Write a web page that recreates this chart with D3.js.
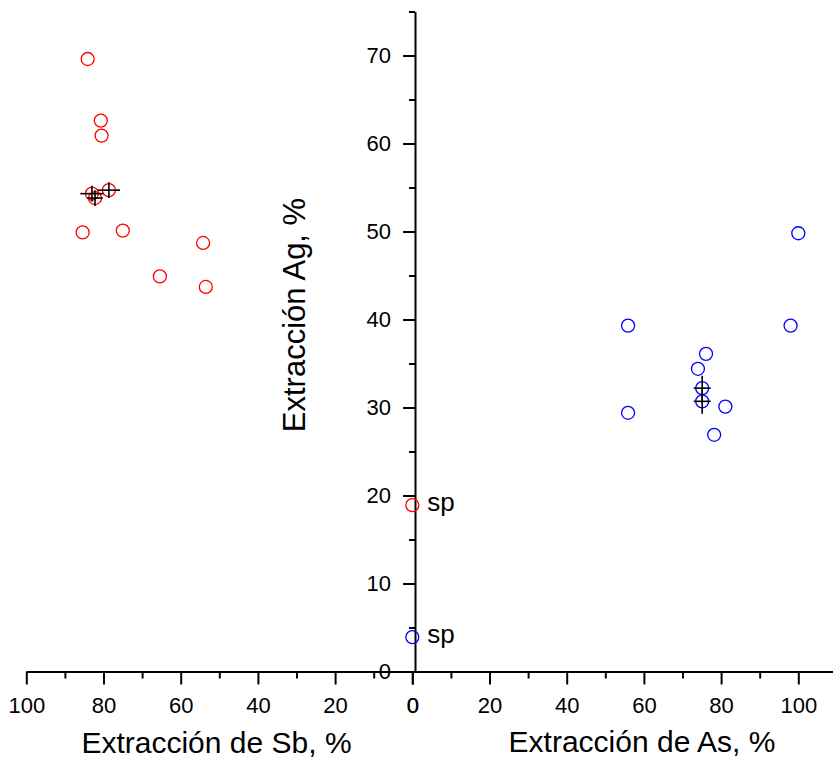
<!DOCTYPE html>
<html>
<head>
<meta charset="utf-8">
<script src="https://cdn.jsdelivr.net/npm/d3@7/dist/d3.min.js"></script>
<style>
  html, body { margin: 0; padding: 0; background: #fff; }
  svg { display: block; font-family: "Liberation Sans", Arial, sans-serif; }
</style>
</head>
<body>
<svg id="chart" width="833" height="761"></svg>
<script>
// ---- Data ----
// Left panel: Extracción de Sb (%) vs Extracción Ag (%)
const sbExt  = [84.1, 80.7, 80.5, 83.0, 82.2, 78.6, 85.4, 75.0, 54.2, 65.4, 53.5, 0];
const sbAg   = [69.6, 62.6, 60.9, 54.3, 53.8, 54.7, 49.9, 50.1, 48.7, 44.9, 43.7, 18.9];
const sbErrX = [0, 0, 0, 3.0, 2.0, 2.9, 0, 0, 0, 0, 0, 0];
const sbErrY = [0, 0, 0, 0.9, 0.9, 0.9, 0, 0, 0, 0, 0, 0];

// Right panel: Extracción de As (%) vs Extracción Ag (%)
const asExt  = [55.9, 55.9, 98.0, 100.0, 76.1, 74.0, 75.1, 75.1, 81.1, 78.2, 0];
const asAg   = [39.3, 29.4, 39.3, 49.8, 36.1, 34.4, 32.2, 30.7, 30.1, 26.9, 3.9];
const asErrX = [0, 0, 0, 0, 0, 0, 2.2, 2.2, 0, 0, 0];
const asErrY = [0, 0, 0, 0, 0, 0, 1.4, 1.4, 0, 0, 0];

// Labels for the "sp" points
const spLabels = [
  { panel: "sb", ext: 0, ag: 18.9, text: "sp" },
  { panel: "as", ext: 0, ag: 3.9, text: "sp" }
];

// Ticks
const xMajorTicks = [0, 20, 40, 60, 80, 100];
const xMinorTicks = [10, 30, 50, 70, 90];
const yMajorTicks = [0, 10, 20, 30, 40, 50, 60, 70];
const yMinorTicks = [5, 15, 25, 35, 45, 55, 65, 75];

const xLabelSb = "Extracción de Sb, %";
const xLabelAs = "Extracción de As, %";
const yLabel   = "Extracción Ag, %";

// ---- Layout ----
const svg = d3.select("#chart");
const x0px = 412.3, pxPerUnit = 3.86;
const xSb = d3.scaleLinear().domain([0, 100]).range([x0px, x0px - 100 * pxPerUnit]);
const xAs = d3.scaleLinear().domain([0, (833 - x0px) / pxPerUnit]).range([x0px, 833]);
const y = d3.scaleLinear().domain([0, 75]).range([671.5, 11.5]);
const yAxisX = 415;
const axisY = 671.5;

const tickFont = 22;

function styleAxis(g) {
  g.selectAll("path.domain").attr("stroke", "#000").attr("stroke-width", 2);
  g.selectAll(".tick line").attr("stroke", "#000").attr("stroke-width", 2);
  g.selectAll(".tick text").attr("fill", "#000").style("font-size", tickFont + "px")
    .style("font-family", "'Liberation Sans', Arial, sans-serif");
}

// X axes (left: Sb reversed, right: As)
[xSb, xAs].forEach(sc => {
  const gMin = svg.append("g").attr("transform", `translate(0,${axisY})`)
    .call(d3.axisBottom(sc).tickValues(xMinorTicks).tickSize(7).tickSizeOuter(0).tickFormat(""));
  styleAxis(gMin);
  gMin.select("path.domain").remove();
  const gMaj = svg.append("g").attr("transform", `translate(0,${axisY})`)
    .call(d3.axisBottom(sc).tickValues(xMajorTicks).tickSize(13).tickSizeOuter(0).tickPadding(12.5));
  styleAxis(gMaj);
});

// Y axis
const gyMin = svg.append("g").attr("transform", `translate(${yAxisX},0)`)
  .call(d3.axisLeft(y).tickValues(yMinorTicks).tickSize(6).tickSizeOuter(0).tickFormat(""));
styleAxis(gyMin);
gyMin.select("path.domain").remove();
const gyMaj = svg.append("g").attr("transform", `translate(${yAxisX},0)`)
  .call(d3.axisLeft(y).tickValues(yMajorTicks).tickSize(12).tickSizeOuter(0).tickPadding(12));
styleAxis(gyMaj);

// Axis titles
svg.append("text").attr("x", 216.5).attr("y", 753).attr("text-anchor", "middle")
  .style("font-size", "30px").text(xLabelSb);
svg.append("text").attr("x", 642).attr("y", 752).attr("text-anchor", "middle")
  .style("font-size", "30px").text(xLabelAs);
svg.append("text").attr("transform", "translate(305,315) rotate(-90)")
  .attr("text-anchor", "middle").style("font-size", "31px").text(yLabel);

// Error bars + points
function drawSeries(xs, ys, ex, ey, xsc, color) {
  const data = xs.map((v, i) => ({ x: v, y: ys[i], ex: ex[i], ey: ey[i] }));
  const g = svg.append("g");
  g.selectAll("circle").data(data).join("circle")
    .attr("cx", d => xsc(d.x)).attr("cy", d => y(d.y)).attr("r", 6.5)
    .attr("fill", "none").attr("stroke", color).attr("stroke-width", 1.3);
  const eb = g.append("g").attr("stroke", "#000").attr("stroke-width", 1.6);
  data.filter(d => d.ex > 0).forEach(d => {
    eb.append("line").attr("x1", xsc(d.x - d.ex)).attr("x2", xsc(d.x + d.ex))
      .attr("y1", y(d.y)).attr("y2", y(d.y));
  });
  data.filter(d => d.ey > 0).forEach(d => {
    eb.append("line").attr("x1", xsc(d.x)).attr("x2", xsc(d.x))
      .attr("y1", y(d.y - d.ey)).attr("y2", y(d.y + d.ey));
  });
}
drawSeries(sbExt, sbAg, sbErrX, sbErrY, xSb, "#ff0000");
drawSeries(asExt, asAg, asErrX, asErrY, xAs, "#0000ff");

// "sp" labels
spLabels.forEach(s => {
  const sc = s.panel === "sb" ? xSb : xAs;
  svg.append("text").attr("x", sc(s.ext) + 15).attr("y", y(s.ag) + 6)
    .style("font-size", "26px").text(s.text);
});
</script>
</body>
</html>
